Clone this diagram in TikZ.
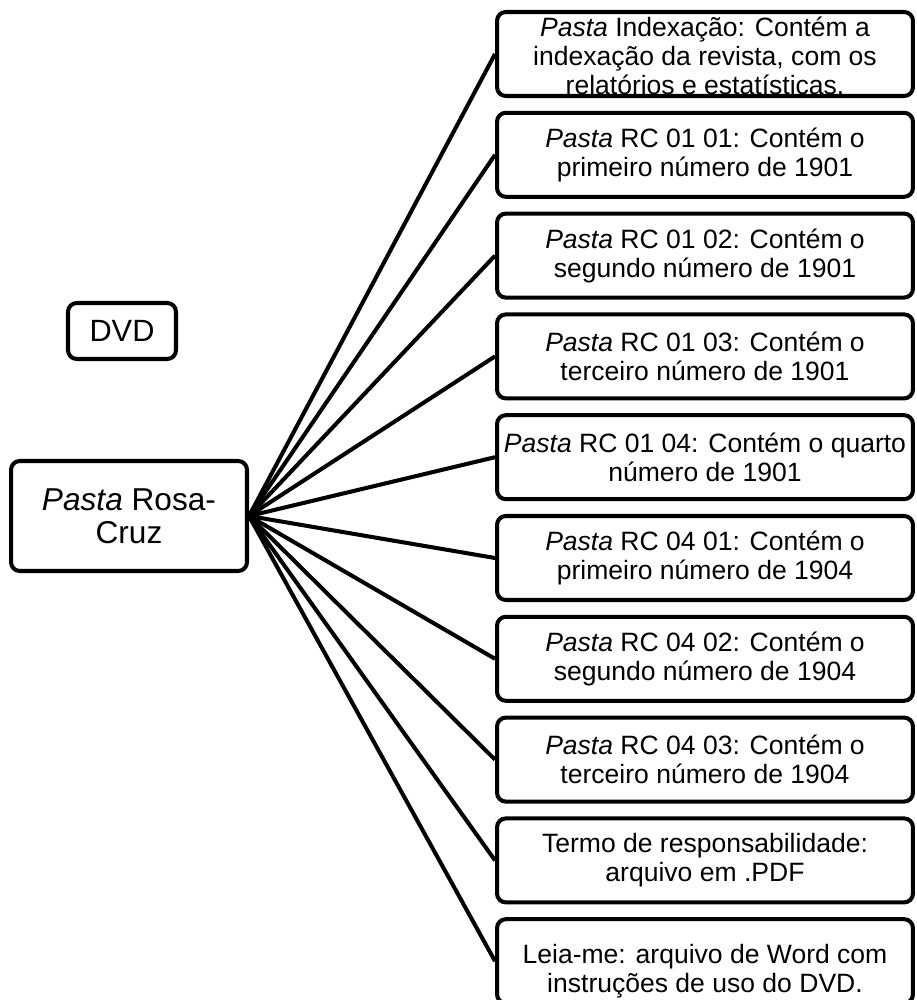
\documentclass[tikz,border=0pt]{standalone}
\usepackage{fontspec}
\setmainfont{Liberation Sans}
\begin{document}
\begin{tikzpicture}[x=0.02cm,y=-0.02cm,
  frame/.style={draw, fill=white, line width=2.3pt, rounded corners=5pt, inner sep=0pt},
  item/.style={frame, minimum width=8.32cm, minimum height=1.68cm},
  itemtxt/.style={align=center, inner sep=0pt, font=\fontsize{15.1}{16.6}\selectfont},
  conn/.style={line width=2.3pt}]
\clip (0,0) rectangle (916,1000);
\node[frame, minimum width=2.16cm, minimum height=1.12cm, font=\fontsize{17.5}{19}\selectfont] (dvd) at (122,331) {DVD};
\node[frame, minimum width=4.72cm, minimum height=2.2cm, align=center, font=\fontsize{18}{19}\selectfont] (rosa) at (129,516) {\textit{Pasta} Rosa-\\Cruz};
\foreach \i in {0,...,9} {
  \node[item] (b\i) at (705,{54+100.8*\i}) {};
}
\node[itemtxt, yshift=-0.04cm] (t0) at (b0) {\textit{Pasta} Indexação: Contém a\\indexação da revista, com os\\relatórios e estatísticas.};
\node[itemtxt] (t1) at (b1) {\textit{Pasta} RC 01 01: Contém o\\primeiro número de 1901};
\node[itemtxt] (t2) at (b2) {\textit{Pasta} RC 01 02: Contém o\\segundo número de 1901};
\node[itemtxt] (t3) at (b3) {\textit{Pasta} RC 01 03: Contém o\\terceiro número de 1901};
\node[itemtxt] (t4) at (b4) {\textit{Pasta} RC 01 04: Contém o quarto\\número de 1901};
\node[itemtxt] (t5) at (b5) {\textit{Pasta} RC 04 01: Contém o\\primeiro número de 1904};
\node[itemtxt] (t6) at (b6) {\textit{Pasta} RC 04 02: Contém o\\segundo número de 1904};
\node[itemtxt] (t7) at (b7) {\textit{Pasta} RC 04 03: Contém o\\terceiro número de 1904};
\node[itemtxt] (t8) at (b8) {Termo de responsabilidade:\\arquivo em .PDF};
\node[itemtxt] (t9) at ([yshift=-0.2cm]b9.center) {Leia-me: arquivo de Word com\\instruções de uso do DVD.};
\foreach \i in {0,...,9} {
  \draw[conn] (rosa.east) -- (b\i.west);
}
\end{tikzpicture}
\end{document}
